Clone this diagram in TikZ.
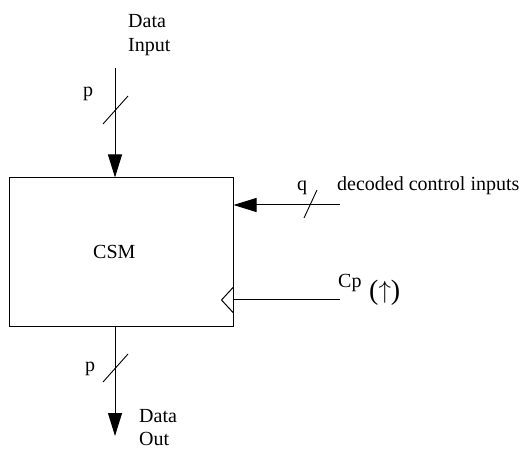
\documentclass[tikz,border=0pt]{standalone}
\usepackage{fontspec}
\setmainfont{Liberation Serif}
\usetikzlibrary{arrows.meta}
\begin{document}
\begin{tikzpicture}[x=1pt,y=-1pt,
  wire/.style={line width=1pt},
  sig/.style={wire,-{Triangle[length=23pt,width=14pt]}},
  busmark/.style={line width=0.9pt},
  lbl/.style={font=\fontsize{20}{20}\selectfont,inner sep=0pt,anchor=base west},
  block/.style={draw,line width=1pt,minimum width=224pt,minimum height=149pt,inner sep=0pt}]
\useasboundingbox (0,0) rectangle (520,449);

% the state machine block
\node[block] (csm) at (121,252.5) {};
\node[lbl] (csmtxt) at (93,259) {CSM};

% data input
\coordinate (din) at (115,68);
\draw[sig] (din) -- (din |- csm.north);
\draw[busmark] (103,124) -- (128,96);
\node[lbl] (pin) at (83,97) {p};
\node[lbl] (dinA) at (128,28) {Data};
\node[lbl] (dinB) at (128,52) {Input};

% decoded control inputs
\coordinate (ctl) at (340,205);
\draw[sig] (ctl) -- (ctl -| csm.east);
\draw[busmark] (304,218) -- (317,190);
\node[lbl] (qlbl) at (297,191) {q};
\node[lbl] (ctltxt) at (337,191) {decoded control inputs};

% clock input with edge marker
\coordinate (clk) at (340,300);
\draw[wire] (clk) -- (clk -| csm.east);
\draw[wire] ([yshift=13pt]clk -| csm.east) -- ++(-12,13) -- ++(12,13);
\node[lbl] (cplbl) at (338,288) {Cp};
\node[lbl,font=\fontsize{28}{28}\selectfont] (edge) at (369,300) {(\raisebox{1pt}{$\uparrow$})};

% data output
\coordinate (dout) at (115,436);
\draw[sig] (csm.south -| dout) -- (dout);
\draw[busmark] (103,382) -- (128,354);
\node[lbl] (pout) at (85,372) {p};
\node[lbl] (doutA) at (139,422) {Data};
\node[lbl] (doutB) at (139,445) {Out};
\end{tikzpicture}
\end{document}
